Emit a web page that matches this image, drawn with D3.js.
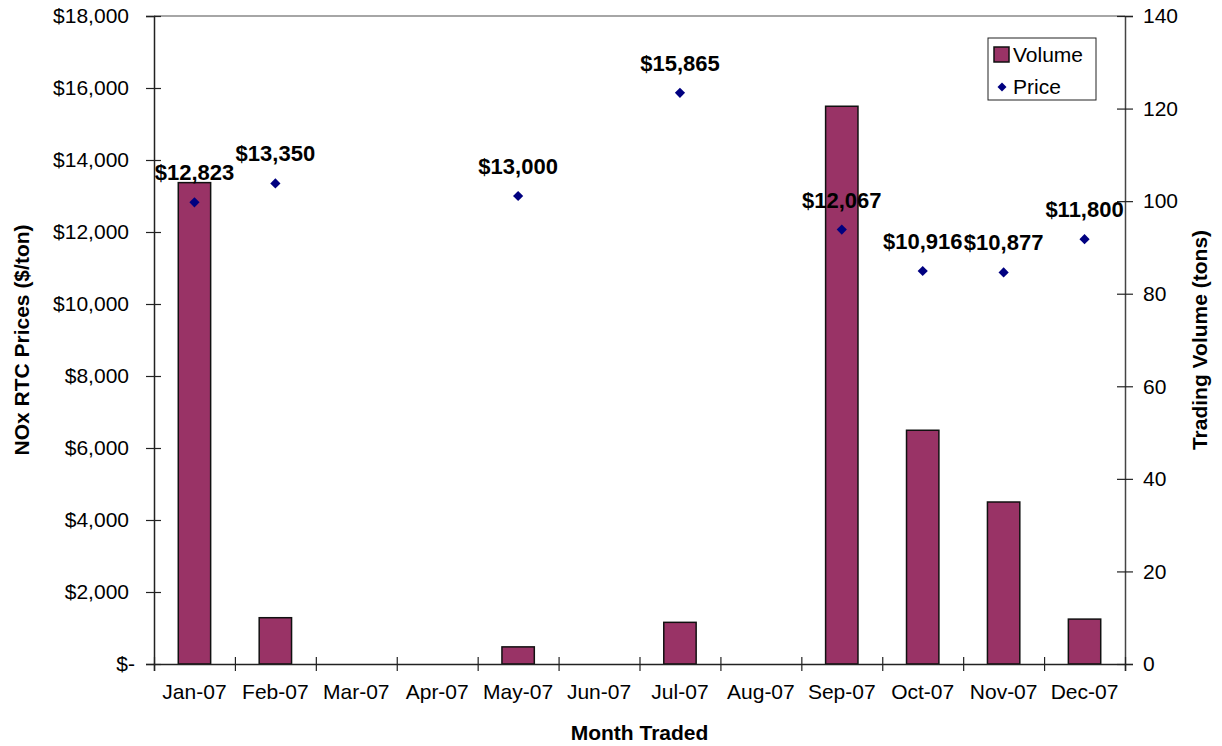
<!DOCTYPE html>
<html>
<head>
<meta charset="utf-8">
<script src="https://cdn.jsdelivr.net/npm/d3@7"></script>
<style>
  html, body { margin: 0; padding: 0; background: #fff; }
  svg { display: block; font-family: Arial, "Liberation Sans", sans-serif; }
  .tick text { font-size: 21px; fill: #000; }
</style>
</head>
<body>
<div id="chart"></div>
<script>
/* NOx RTC prices and trading volume, 2007 */

const months = ['Jan-07', 'Feb-07', 'Mar-07', 'Apr-07', 'May-07', 'Jun-07',
  'Jul-07', 'Aug-07', 'Sep-07', 'Oct-07', 'Nov-07', 'Dec-07'];
// tons traded (null = no trades)
const volume = [104, 10, null, null, 3.7, null, 9, null, 120.5, 50.5, 35, 9.7];
// $/ton
const price = [12823, 13350, null, null, 13000, null, 15865, null, 12067, 10916, 10877, 11800];
const priceTicks = [0, 2000, 4000, 6000, 8000, 10000, 12000, 14000, 16000, 18000];
const volumeTicks = [0, 20, 40, 60, 80, 100, 120, 140];

const W = 1222, H = 746;
const plotL = 154, plotR = 1125, plotT = 16, plotB = 664;

const svg = d3.select('#chart').append('svg')
  .attr('width', W).attr('height', H);

const x = d3.scaleBand().domain(months).range([plotL, plotR])
  .paddingInner(0.6).paddingOuter(0.3);
const xEdge = d3.scaleLinear().domain([0, months.length]).range([plotL, plotR]);
const yL = d3.scaleLinear().domain([0, 18000]).range([plotB, plotT]);
const yR = d3.scaleLinear().domain([0, 140]).range([plotB, plotT]);

// plot area top border
svg.append('line')
  .attr('x1', plotL).attr('x2', plotR).attr('y1', plotT).attr('y2', plotT)
  .attr('stroke', '#888').attr('stroke-width', 1.5);

// bars
svg.append('g').selectAll('rect')
  .data(months.map((m, i) => ({ m, v: volume[i] })).filter((d) => d.v != null))
  .join('rect')
  .attr('x', (d) => x(d.m))
  .attr('width', x.bandwidth())
  .attr('y', (d) => yR(d.v))
  .attr('height', (d) => yR(0) - yR(d.v))
  .attr('fill', '#993366')
  .attr('stroke', '#111')
  .attr('stroke-width', 1.5);

// axes
const fmt = d3.format('$,');
const gL = svg.append('g').attr('transform', `translate(${plotL},0)`)
  .call(d3.axisLeft(yL).tickValues(priceTicks).tickSize(8).tickPadding(17)
    .tickFormat((d) => (d === 0 ? '$-' : fmt(d))));
const gR = svg.append('g').attr('transform', `translate(${plotR},0)`)
  .call(d3.axisRight(yR).tickValues(volumeTicks).tickSize(8).tickPadding(10));
const gB = svg.append('g').attr('transform', `translate(0,${plotB})`)
  .call(d3.axisBottom(xEdge).ticks(months.length).tickSize(7).tickFormat(''));
const gX = svg.append('g').attr('transform', `translate(0,${plotB})`)
  .call(d3.axisBottom(x).tickSize(0).tickPadding(24));

[gL, gR, gB, gX].forEach((g) => {
  g.attr('font-size', null);
  g.select('.domain').attr('stroke', '#222').attr('stroke-width', 1.5);
  g.selectAll('.tick line').attr('stroke', '#222').attr('stroke-width', 1.2);
});
gX.select('.domain').remove();
gR.select('.domain').attr('stroke', '#444');
gL.selectAll('.tick line').attr('x1', 7);
gL.selectAll('.tick text').filter((d) => d === 0).attr('dx', 6);
gR.selectAll('.tick line').attr('x1', -8);
gB.selectAll('.tick line').attr('y1', -7);
gX.selectAll('.tick text').attr('dy', '0.5em');

// price points
const pts = months.map((m, i) => ({ m, p: price[i] })).filter((d) => d.p != null);
const diamond = d3.symbol(d3.symbolSquare, 52);
svg.append('g').selectAll('path')
  .data(pts)
  .join('path')
  .attr('d', diamond)
  .attr('transform', (d) => `translate(${x(d.m) + x.bandwidth() / 2},${yL(d.p)}) rotate(45)`)
  .attr('fill', '#000080');

svg.append('g').selectAll('text')
  .data(pts)
  .join('text')
  .attr('x', (d) => x(d.m) + x.bandwidth() / 2)
  .attr('y', (d) => yL(d.p) - 22)
  .attr('text-anchor', 'middle')
  .attr('font-size', 22)
  .attr('font-weight', 'bold')
  .text((d) => fmt(d.p));

// axis titles
svg.append('text')
  .attr('transform', `translate(29,${(plotT + plotB) / 2}) rotate(-90)`)
  .attr('text-anchor', 'middle')
  .attr('font-size', 21).attr('font-weight', 'bold')
  .text('NOx RTC Prices ($/ton)');
svg.append('text')
  .attr('transform', `translate(1207,${(plotT + plotB) / 2}) rotate(-90)`)
  .attr('text-anchor', 'middle')
  .attr('font-size', 21).attr('font-weight', 'bold')
  .text('Trading Volume (tons)');
svg.append('text')
  .attr('x', (plotL + plotR) / 2).attr('y', 740)
  .attr('text-anchor', 'middle')
  .attr('font-size', 21).attr('font-weight', 'bold')
  .text('Month Traded');

// legend
const lg = svg.append('g').attr('transform', 'translate(988,38)');
lg.append('rect').attr('width', 108).attr('height', 62)
  .attr('fill', '#fff').attr('stroke', '#222').attr('stroke-width', 1);
lg.append('rect').attr('x', 6).attr('y', 9).attr('width', 15).attr('height', 15)
  .attr('fill', '#993366').attr('stroke', '#111').attr('stroke-width', 1.5);
lg.append('text').attr('x', 25).attr('y', 24).attr('font-size', 21).text('Volume');
lg.append('path').attr('d', d3.symbol(d3.symbolSquare, 40))
  .attr('transform', 'translate(14,49) rotate(45)').attr('fill', '#000080');
lg.append('text').attr('x', 25).attr('y', 56).attr('font-size', 21).text('Price');
</script>
</body>
</html>
